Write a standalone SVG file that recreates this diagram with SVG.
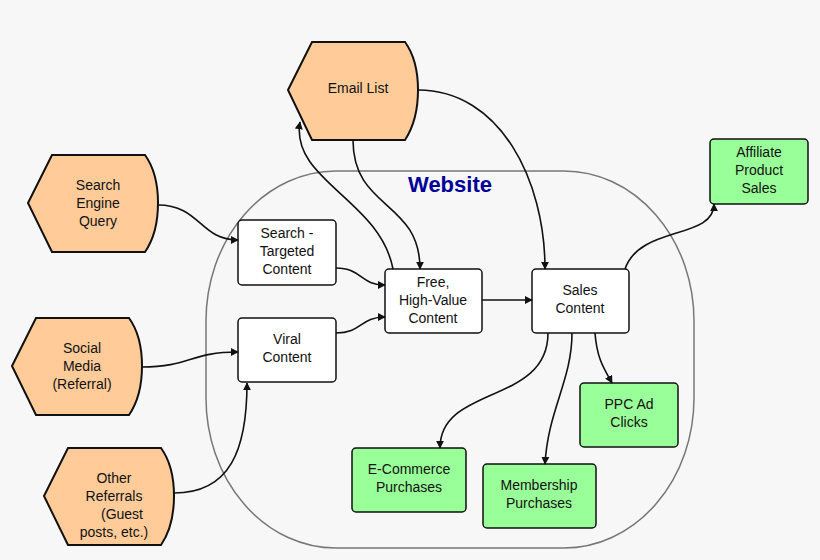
<svg xmlns="http://www.w3.org/2000/svg" width="820" height="560" viewBox="0 0 820 560">
<style>
.hex{fill:#ffcc99;stroke:#111;stroke-width:2}
.box{fill:#fff;stroke:#111;stroke-width:1.5}
.grn{fill:#99ff99;stroke:#111;stroke-width:1.5}
text{font-family:"Liberation Sans",Arial,sans-serif;font-size:14px;fill:#111;text-anchor:middle}
.c path{fill:none;stroke:#111;stroke-width:1.6;marker-end:url(#a)}
</style>
<defs><marker id="a" viewBox="0 0 10 10" refX="9" refY="5" markerWidth="8" markerHeight="8" orient="auto" markerUnits="userSpaceOnUse"><path d="M0,0L10,5L0,10z" fill="#111"/></marker></defs>
<rect width="820" height="560" fill="#f7f7f7"/>
<rect x="206" y="171" width="488" height="377" rx="130" ry="150" fill="none" stroke="#777" stroke-width="1.5"/>
<text x="450" y="192" style="font-size:22px;font-weight:bold;fill:#000099">Website</text>
<g id="email"><path class="hex" d="M288,90 L312,42 H405 Q418,60 418,90 Q418,120 405,140 H312 Z"/><text x="358" y="93">Email List</text></g>
<g id="search"><path class="hex" d="M28,203 L52,155 H145 Q158,173 158,203 Q158,233 145,252 H52 Z"/><text x="98" y="190">Search</text><text x="98" y="208">Engine</text><text x="98" y="226">Query</text></g>
<g id="social"><path class="hex" d="M12,366 L36,318 H129 Q142,336 142,366 Q142,396 129,415 H36 Z"/><text x="82" y="353">Social</text><text x="82" y="371">Media</text><text x="82" y="389">(Referral)</text></g>
<g id="other"><path class="hex" d="M44,496 L68,448 H161 Q174,466 174,496 Q174,526 161,545 H68 Z"/><text x="114" y="483">Other</text><text x="114" y="501">Referrals</text><text x="122" y="519">(Guest</text><text x="114" y="537">posts, etc.)</text></g>
<g id="targeted"><rect class="box" x="238" y="220" width="98" height="65" rx="4"/><text x="287" y="238">Search -</text><text x="287" y="256">Targeted</text><text x="287" y="274">Content</text></g>
<g id="viral"><rect class="box" x="238" y="318" width="98" height="64" rx="4"/><text x="287" y="344">Viral</text><text x="287" y="362">Content</text></g>
<g id="free"><rect class="box" x="385" y="269" width="97" height="64" rx="4"/><text x="433" y="287">Free,</text><text x="433" y="305">High-Value</text><text x="433" y="323">Content</text></g>
<g id="sales"><rect class="box" x="532" y="269" width="97" height="64" rx="4"/><text x="580" y="295">Sales</text><text x="580" y="313">Content</text></g>
<g id="affiliate"><rect class="grn" x="710" y="139" width="98" height="65" rx="4"/><text x="759" y="157">Affiliate</text><text x="759" y="175">Product</text><text x="759" y="193">Sales</text></g>
<g id="ppc"><rect class="grn" x="580" y="383" width="98" height="64" rx="4"/><text x="629" y="409">PPC Ad</text><text x="629" y="427">Clicks</text></g>
<g id="ecom"><rect class="grn" x="352" y="448" width="114" height="64" rx="4"/><text x="409" y="474">E-Commerce</text><text x="409" y="492">Purchases</text></g>
<g id="member"><rect class="grn" x="483" y="464" width="113" height="64" rx="4"/><text x="539" y="490">Membership</text><text x="539" y="508">Purchases</text></g>
<g class="c">
<path d="M158,205 C200,205 200,240 238,240"/>
<path d="M142,367 C190,367 190,352 238,352"/>
<path d="M174,493 C230,493 247,450 247,383"/>
<path d="M336,268 C362,268 360,285 385,285"/>
<path d="M336,333 C362,333 360,317 385,317"/>
<path d="M393,269 C380,200 290,180 300,122"/>
<path d="M353,140 C353,210 420,200 420,269"/>
<path d="M418,90 C500,90 545,180 545,269"/>
<path d="M482,300 H532"/>
<path d="M625,269 C640,225 714,240 714,204"/>
<path d="M595,333 C597,360 605,370 612,383"/>
<path d="M572,333 C572,380 548,410 545,464"/>
<path d="M548,333 C548,405 440,385 440,448"/>
</g>
</svg>
